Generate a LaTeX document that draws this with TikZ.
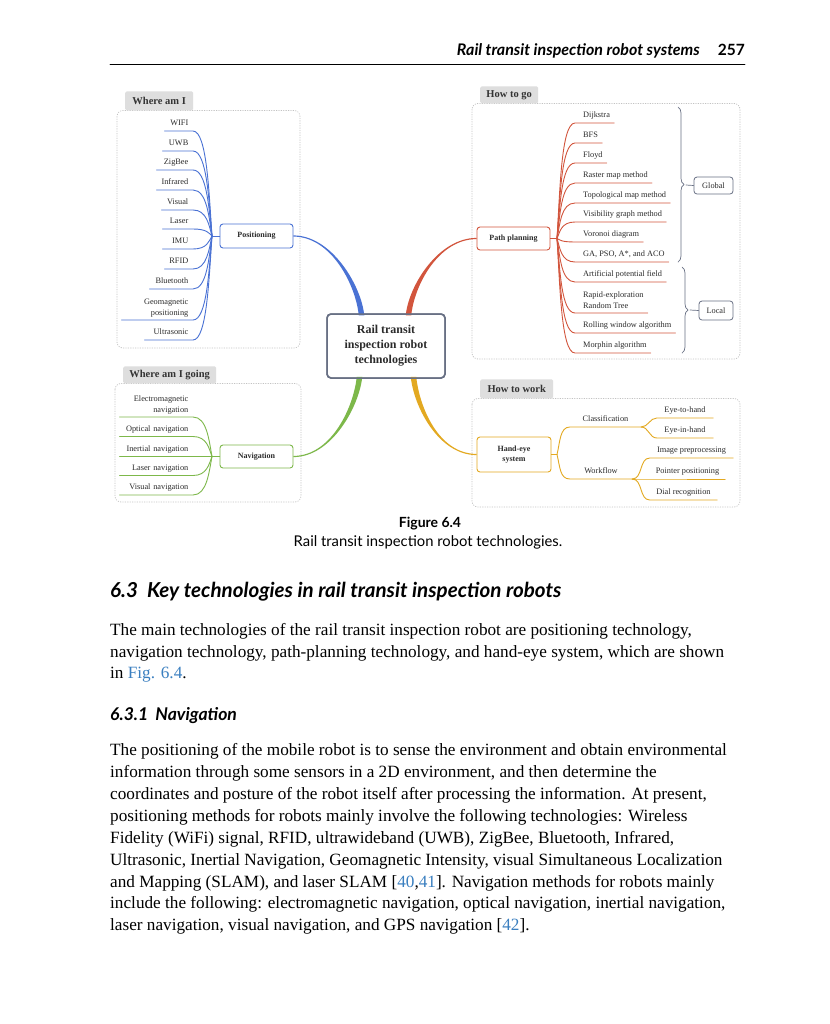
\documentclass[tikz,border=0pt]{standalone}
\usepackage{fontspec}
\setmainfont{Liberation Serif}
\newfontfamily\headfont{Lato}
\usetikzlibrary{calc,decorations.pathreplacing}
\definecolor{posblue}{HTML}{4A72D4}
\definecolor{pathred}{HTML}{D2553D}
\definecolor{navgreen}{HTML}{7DB84A}
\definecolor{handgold}{HTML}{E3A921}
\definecolor{hubgray}{HTML}{687084}
\definecolor{tabgray}{HTML}{DEDEDE}
\definecolor{tabtext}{HTML}{333333}
\definecolor{dotgray}{HTML}{C2C2C2}
\definecolor{leaftext}{HTML}{2B2B2B}
\definecolor{linkblue}{HTML}{3A7FC0}
\newcommand{\fsz}[2]{\fontsize{#1bp}{#2bp}\selectfont}

\begin{document}
\begin{tikzpicture}[x=1bp,y=-1bp,line cap=round,
  area/.style={draw=dotgray,line width=0.8bp,dash pattern=on 0.6bp off 1.8bp,rounded corners=6bp},
  tabbox/.style={fill=tabgray,rounded corners=1.5bp,inner sep=0pt,font=\fsz{10.5}{12}\bfseries,text=tabtext},
  topic/.style={draw,fill=white,rounded corners=3bp,line width=0.9bp,inner sep=0pt,font=\fsz{8}{10}\bfseries,align=center,text=leaftext},
  tag/.style={draw=hubgray,rounded corners=3bp,line width=0.8bp,inner sep=0pt,font=\fsz{8.3}{10},text=leaftext},
  leaf/.style={inner xsep=1.5bp,inner ysep=3bp,text height=6bp,text depth=2bp,font=\fsz{8.3}{10.5},text=leaftext},
  twoline/.style={leaf,text height=,text depth=},
  twig/.style={line width=0.9bp},
  body/.style={anchor=base west,inner sep=0pt,font=\fsz{17.2}{21}},
]
\fill[white] (0,0) rectangle (830,1024);
\useasboundingbox (0,0) rectangle (830,1024);

\node[anchor=base east,inner sep=0pt,font=\headfont\fsz{16}{19}\bfseries\itshape] (runhead) at (700,55) {Rail transit inspection robot systems};
\node[anchor=base east,inner sep=0pt,font=\headfont\fsz{15.5}{19}\bfseries] (pageno) at (745,55) {257};
\draw[line width=0.6bp] (110,64) -- (745,64);

\draw[area] (117,110.5) rectangle (300,348);
\draw[area] (472,103.5) rectangle (740,359);
\draw[area] (115,383.5) rectangle (301,502);
\draw[area] (472,398.5) rectangle (740,507);
\node[tabbox,minimum width=68bp,minimum height=19bp,anchor=south west] (tabwhere) at (125,110.5) {Where am I};
\node[tabbox,minimum width=58bp,minimum height=17bp,anchor=south west] (tabgo) at (480,103.5) {How to go};
\node[tabbox,minimum width=93bp,minimum height=17bp,anchor=south west] (tabgoing) at (123,383.5) {Where am I going};
\node[tabbox,minimum width=73bp,minimum height=19bp,anchor=south west] (tabwork) at (480,398.5) {How to work};

\node[topic,draw=posblue,minimum width=73bp,minimum height=24bp] (pos) at (256.5,236) {Positioning};
\coordinate (poshub) at (212,236);
\draw[posblue,twig] (poshub) -- (pos.west);
\foreach \n/\t/\y/\w/\s in {wifi/WIFI/131/22/leaf, uwb/UWB/151/24/leaf, zigbee/ZigBee/170/30/leaf,
  infrared/Infrared/190/30/leaf, visual/Visual/210/25/leaf, laser/Laser/229/24/leaf,
  imu/IMU/249/24/leaf, rfid/RFID/269/22/leaf, bluetooth/Bluetooth/289/37/leaf,
  geomag/{Geomagnetic\\positioning}/320/65/twoline, ultra/Ultrasonic/340/42/leaf}
{
  \node[\s,anchor=south east,text width=\w bp,align=right] (\n) at (190,\y) {\t};
  \draw[posblue,twig] (\n.south west) -- ([xshift=3]\n.south east) .. controls +(14,0) and +(-3,{(\y-236)*0.4}) .. (poshub);
}

\node[topic,draw=pathred,minimum width=73bp,minimum height=23bp] (pp) at (513.5,238.5) {Path planning};
\coordinate (pphub) at (557,238.5);
\draw[pathred,twig] (pp.east) -- (pphub);
\foreach \n/\t/\y/\s in {dijkstra/Dijkstra/123/leaf, bfs/BFS/143/leaf, floyd/Floyd/163/leaf,
  raster/Raster map method/183/leaf, topo/Topological map method/203/leaf,
  visib/Visibility graph method/222/leaf, voronoi/Voronoi diagram/242/leaf,
  ga/{GA, PSO, A*, and ACO}/262/leaf, apf/Artificial potential field/282/leaf,
  rrt/{Rapid-exploration\\Random Tree\vphantom{g}}/313/twoline,
  rolling/Rolling window algorithm/333/leaf, morphin/Morphin algorithm/353/leaf}
{
  \node[\s,anchor=south west,align=left] (\n) at (581.5,\y) {\t};
  \draw[pathred,twig] (pphub) .. controls +(3,{(\y-238.5)*0.4}) and +(-14,0) .. ([xshift=-6.5]\n.south west) -- ([xshift=2.5]\n.south east);
}
\draw[hubgray,line width=0.7bp,decorate,decoration={brace,amplitude=6bp}] (678,107) -- (678,262);
\draw[hubgray,line width=0.7bp,decorate,decoration={brace,amplitude=6bp}] (682,267) -- (682,353);
\coordinate (gtip) at (686,185);
\coordinate (ltip) at (690,310);
\node[tag,minimum width=39bp,minimum height=17bp] (global) at (713.5,185.5) {Global};
\node[tag,minimum width=34bp,minimum height=19bp] (local) at (716,310.5) {Local};
\draw[hubgray,line width=0.7bp] (gtip) -- (global.west);
\draw[hubgray,line width=0.7bp] (ltip) -- (local.west);

\node[topic,draw=navgreen,minimum width=73bp,minimum height=23bp] (nav) at (256.5,456.5) {Navigation};
\coordinate (navhub) at (212,456.5);
\draw[navgreen,twig] (navhub) -- (nav.west);
\foreach \n/\t/\y/\s in {emag/{Electromagnetic\\navigation}/417/twoline, optical/Optical navigation/436.5/leaf,
  inertial/Inertial navigation/456.5/leaf, lasernav/Laser navigation/475.5/leaf, visnav/Visual navigation/495/leaf}
{
  \node[\s,anchor=south east,text width=67bp,align=right] (\n) at (190,\y) {\t};
  \draw[navgreen,twig] (\n.south west) -- ([xshift=3]\n.south east) .. controls +(14,0) and +(-3,{(\y-456.5)*0.4}) .. (navhub);
}

\node[topic,draw=handgold,minimum width=74bp,minimum height=35bp] (hand) at (514,454.5) {Hand-eye\\system};
\coordinate (handhub) at (557,454.5);
\draw[handgold,twig] (hand.east) -- (handhub);
\node[leaf,anchor=south,minimum width=71bp] (cls) at (605.5,427) {Classification};
\node[leaf,anchor=south,minimum width=62bp] (wflow) at (601,479) {Workflow};
\draw[handgold,twig] (handhub) .. controls +(3,-12) and +(-10,0) .. (cls.south west) -- (cls.south east);
\draw[handgold,twig] (handhub) .. controls +(3,12) and +(-10,0) .. (wflow.south west) -- (wflow.south east);
\node[leaf,anchor=south,minimum width=56bp] (etoh) at (685,418) {Eye-to-hand};
\node[leaf,anchor=south,minimum width=56bp] (einh) at (685,438) {Eye-in-hand};
\node[leaf,anchor=south,minimum width=83bp] (imgpre) at (691.5,458) {Image preprocessing};
\node[leaf,anchor=south,minimum width=75bp] (pointer) at (687.5,479) {Pointer positioning};
\node[leaf,anchor=south,minimum width=67bp] (dial) at (683.5,500) {Dial recognition};
\draw[handgold,twig] (cls.south east) to[out=0,in=180] (etoh.south west) -- (etoh.south east);
\draw[handgold,twig] (cls.south east) to[out=0,in=180] (einh.south west) -- (einh.south east);
\draw[handgold,twig] (wflow.south east) to[out=0,in=180] (imgpre.south west) -- (imgpre.south east);
\draw[handgold,twig] (wflow.south east) -- (pointer.south west) -- (pointer.south east);
\draw[handgold,twig] (wflow.south east) to[out=0,in=180] (dial.south west) -- (dial.south east);

\node[draw=hubgray,fill=white,line width=1.5bp,rounded corners=4bp,minimum width=118bp,minimum height=64bp,inner sep=0pt,
  font=\fsz{12}{15}\bfseries,align=center,text=leaftext] (ctr) at (386,346) {Rail transit\\inspection robot\\technologies};
\fill[posblue] ([yshift=-0.6]pos.east) .. controls +(38,0) and +(-3,-30) .. ($(ctr.north west)+(32.5,2)$)
  -- ($(ctr.north west)+(38,2)$) .. controls +(-3,-30) and +(38,0) .. ([yshift=0.6]pos.east) -- cycle;
\fill[pathred] ([yshift=-0.6]pp.west) .. controls +(-38,0) and +(3,-30) .. ($(ctr.north east)+(-34.5,2)$)
  -- ($(ctr.north east)+(-40,2)$) .. controls +(3,-30) and +(-38,0) .. ([yshift=0.6]pp.west) -- cycle;
\fill[navgreen] ([yshift=0.6]nav.east) .. controls +(38,0) and +(-3,30) .. ($(ctr.south west)+(30.5,-2)$)
  -- ($(ctr.south west)+(36,-2)$) .. controls +(-3,30) and +(38,0) .. ([yshift=-0.6]nav.east) -- cycle;
\fill[handgold] ([yshift=0.6]hand.west) .. controls +(-38,0) and +(3,30) .. ($(ctr.south east)+(-29.5,-2)$)
  -- ($(ctr.south east)+(-35,-2)$) .. controls +(3,30) and +(-38,0) .. ([yshift=-0.6]hand.west) -- cycle;
\node[draw=hubgray,line width=1.5bp,rounded corners=4bp,minimum width=118bp,minimum height=64bp] (ctrframe) at (ctr) {};

\node[anchor=base,inner sep=0pt,font=\headfont\fsz{14}{17}\bfseries] (figno) at (430,527) {Figure 6.4};
\node[anchor=base,inner sep=0pt,font=\headfont\fsz{14.8}{17}] (figcap) at (428,546) {Rail transit inspection robot technologies.};

\node[anchor=base west,inner sep=0pt,font=\headfont\fsz{20.6}{24}\bfseries\itshape] (sec) at (110,597) {6.3\hspace{9bp}Key technologies in rail transit inspection robots};
\node[body] (pa1) at (110,635) {The main technologies of the rail transit inspection robot are positioning technology,};
\node[body] (pa2) at (110,657) {navigation technology, path-planning technology, and hand-eye system, which are shown};
\node[body] (pa3) at (110,678) {in \textcolor{linkblue}{Fig. 6.4}.};
\node[anchor=base west,inner sep=0pt,font=\headfont\fsz{17.6}{21}\bfseries\itshape] (subsec) at (110,720) {6.3.1\hspace{7bp}Navigation};
\node[body] (pb1) at (110,755) {The positioning of the mobile robot is to sense the environment and obtain environmental};
\node[body] (pb2) at (110,777) {information through some sensors in a 2D environment, and then determine the};
\node[body] (pb3) at (110,799) {coordinates and posture of the robot itself after processing the information. At present,};
\node[body] (pb4) at (110,821) {positioning methods for robots mainly involve the following technologies: Wireless};
\node[body] (pb5) at (110,843) {Fidelity (WiFi) signal, RFID, ultrawideband (UWB), ZigBee, Bluetooth, Infrared,};
\node[body] (pb6) at (110,865) {Ultrasonic, Inertial Navigation, Geomagnetic Intensity, visual Simultaneous Localization};
\node[body] (pb7) at (110,887) {and Mapping (SLAM), and laser SLAM [\textcolor{linkblue}{40},\textcolor{linkblue}{41}]. Navigation methods for robots mainly};
\node[body] (pb8) at (110,908) {include the following: electromagnetic navigation, optical navigation, inertial navigation,};
\node[body] (pb9) at (110,930) {laser navigation, visual navigation, and GPS navigation [\textcolor{linkblue}{42}].};
\end{tikzpicture}
\end{document}
